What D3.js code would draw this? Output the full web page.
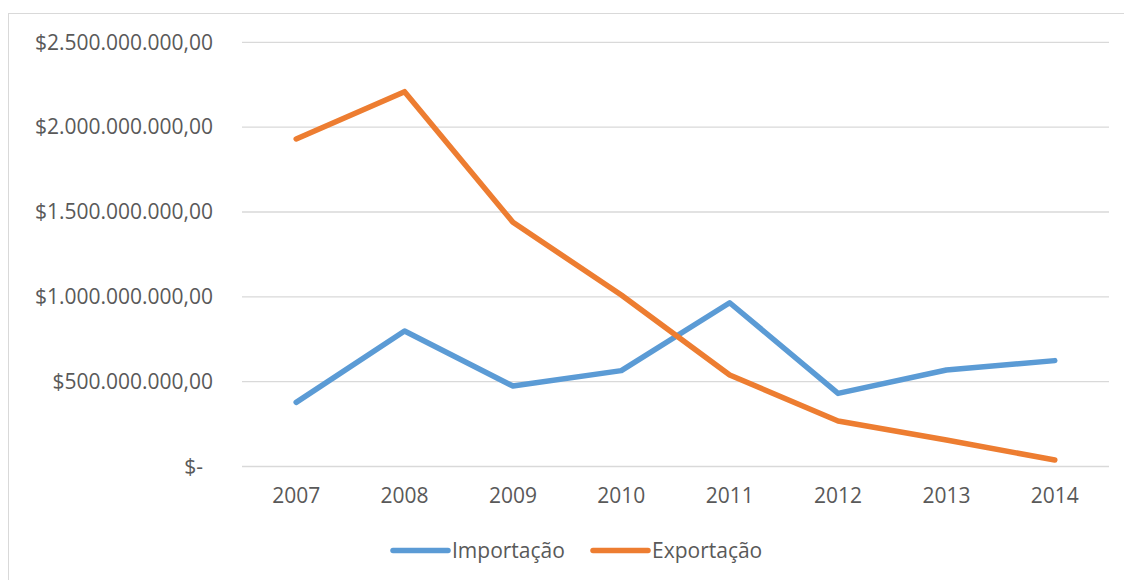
<!DOCTYPE html>
<html>
<head>
<meta charset="utf-8">
<script src="https://cdn.jsdelivr.net/npm/d3@7"></script>
<style>
html,body{margin:0;padding:0;background:#fff;}
svg{display:block;font-family:"Open Sans",sans-serif;}
</style>
</head>
<body>
<svg id="chart" width="1124" height="580"></svg>
<script>
const years = ["2007","2008","2009","2010","2011","2012","2013","2014"];
const importacao = [378e6, 799e6, 474e6, 565e6, 965e6, 431e6, 569e6, 624e6];
const exportacao = [1930e6, 2209e6, 1439e6, 1011e6, 539e6, 268e6, 156e6, 38e6];
const yTicks = [0, 500e6, 1000e6, 1500e6, 2000e6, 2500e6];
const seriesNames = ["Importação", "Exportação"];
const seriesColors = ["#5B9BD5", "#ED7D31"];

const svg = d3.select("#chart");
const W = 1124, H = 580;

// outer chart border
svg.append("rect").attr("x", 8.5).attr("y", 13.5).attr("width", W).attr("height", H)
  .attr("fill", "none").attr("stroke", "#d9d9d9").attr("stroke-width", 1);

const plotLeft = 242, plotRight = 1109, plotTop = 42.3, plotBottom = 466.5;
const x = d3.scaleBand().domain(years).range([plotLeft, plotRight]);
const y = d3.scaleLinear().domain([0, 2500e6]).range([plotBottom, plotTop]);

const fmt = v => {
  if (v === 0) return "$-";
  const s = d3.format(",.2f")(v);
  return "$" + s.replace(/,/g, "#").replace(".", ",").replace(/#/g, ".");
};

// gridlines
svg.append("g").selectAll("line").data(yTicks).join("line")
  .attr("x1", plotLeft).attr("x2", plotRight)
  .attr("y1", d => y(d)).attr("y2", d => y(d))
  .attr("stroke", "#d9d9d9").attr("stroke-width", 1.3);

// y axis labels
const yAxis = svg.append("g").attr("transform", `translate(${plotLeft},0)`)
  .call(d3.axisLeft(y).tickValues(yTicks).tickFormat(fmt).tickSize(0).tickPadding(29));
yAxis.select(".domain").remove();
yAxis.selectAll("text")
  .attr("fill", "#595959").attr("font-size", 21).attr("font-family", "Open Sans")
  .attr("dx", d => d === 0 ? -10 : 0);

// x axis labels
const xAxis = svg.append("g").attr("transform", `translate(0,${plotBottom})`)
  .call(d3.axisBottom(x).tickSize(0).tickPadding(22));
xAxis.select(".domain").remove();
xAxis.selectAll("text")
  .attr("fill", "#595959").attr("font-size", 21).attr("font-family", "Open Sans");

const line = d3.line()
  .x((d, i) => x(years[i]) + x.bandwidth() / 2)
  .y(d => y(d));

[importacao, exportacao].forEach((vals, k) => {
  svg.append("path").datum(vals)
    .attr("d", line)
    .attr("fill", "none")
    .attr("stroke", seriesColors[k])
    .attr("stroke-width", 5.5)
    .attr("stroke-linecap", "round")
    .attr("stroke-linejoin", "round");
});

// legend
const legendItems = [
  {name: seriesNames[0], color: seriesColors[0], x1: 393, x2: 448, tx: 452},
  {name: seriesNames[1], color: seriesColors[1], x1: 593, x2: 648, tx: 652}
];
const lg = svg.append("g");
legendItems.forEach(it => {
  lg.append("line").attr("x1", it.x1).attr("x2", it.x2).attr("y1", 550.5).attr("y2", 550.5)
    .attr("stroke", it.color).attr("stroke-width", 5.5).attr("stroke-linecap", "round");
  lg.append("text").attr("x", it.tx).attr("y", 550.5).attr("dy", "0.35em")
    .attr("fill", "#595959").attr("font-size", 21).text(it.name);
});
</script>
</body>
</html>
